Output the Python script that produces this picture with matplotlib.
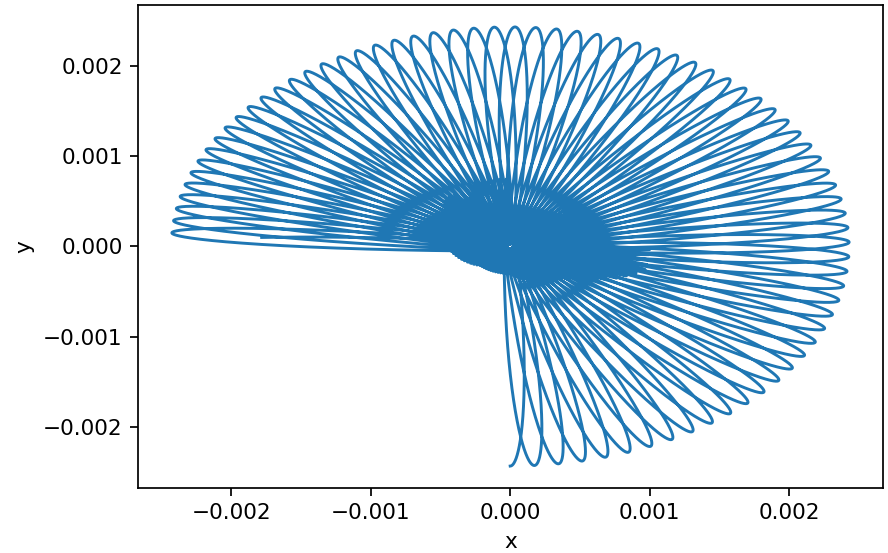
import numpy as np
import matplotlib
matplotlib.use("Agg")
from matplotlib import pyplot as plt

# Rosette trajectory: narrow loops sweeping round the origin
# values
n_loops = 74                      # whole loops after the starting half-loop
phi_start = -90.0                 # direction of the first tip (deg)
end_point = (-1.78e-3, 1.0e-4)    # where the line stops
r_outer = 2.43e-3                 # distance of the loop tips
half_width = 9.5e-5               # half width of one loop
step_first, step_last = 4.0, 3.1  # angle between neighbouring tips (deg)

# how far the loops run past the centre, by loop direction
overshoot_dir = [-90, -50, 0, 45, 90, 135, 165, 180]
overshoot = [7.5e-4, 7.0e-4, 4.5e-4, 3.0e-4, 3.0e-4, 5.0e-4, 1.0e-3, 1.0e-3]

tip_shape = 0.85
taper = 0.3


def radial(s, r_in):
    return r_in + (r_outer - r_in) * ((1 - np.cos(s)) / 2) ** tip_shape


def sideways(s):
    # loops get a little narrower where they turn round near the centre
    return -half_width * np.sin(s) * ((1 - np.cos(s)) / 2) ** taper


# phase of the last loop where the line ends
end_r = np.hypot(*end_point)
r_in_end = -np.interp(180, overshoot_dir, overshoot)
frac = ((end_r - r_in_end) / (r_outer - r_in_end)) ** (1 / tip_shape)
s_last = np.arccos(1 - 2 * frac)
phi_end = np.degrees(np.arctan2(end_point[1], end_point[0]) - np.arctan2(sideways(s_last), end_r))

s = np.linspace(np.pi, 2 * np.pi * n_loops + s_last, 80000)
u = (s - s[0]) / (2 * np.pi)
U = u[-1]
scale = (phi_end - phi_start) / (U * (step_first + step_last) / 2)
phi_deg = phi_start + scale * (step_first * u + (step_last - step_first) * u ** 2 / (2 * U))
phi = np.radians(phi_deg)

r_in = -np.interp(phi_deg, overshoot_dir, overshoot)
along = radial(s, r_in)
across = sideways(s)
x = along * np.cos(phi) - across * np.sin(phi)
y = along * np.sin(phi) + across * np.cos(phi)

fig = plt.figure(figsize=(888 / 156, 553 / 156), dpi=156)
ax = fig.add_axes([138 / 888, 1 - 488 / 553, 745 / 888, 483 / 553])
ax.plot(x, y, lw=1.35)
ax.set_xlabel("x")
ax.set_ylabel("y")
ax.set_xticks([-0.002, -0.001, 0.0, 0.001, 0.002])
ax.set_yticks([-0.002, -0.001, 0.0, 0.001, 0.002])

fig.savefig("out.png", dpi=156)
